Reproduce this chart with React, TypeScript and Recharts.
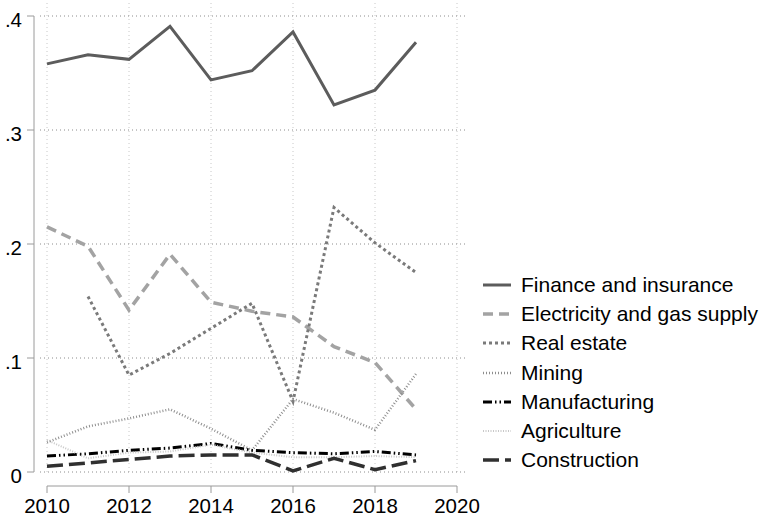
import { CartesianGrid, Line, LineChart, XAxis, YAxis } from 'recharts';

const YEARS = [2010, 2011, 2012, 2013, 2014, 2015, 2016, 2017, 2018, 2019];

const FINANCE = [0.358, 0.366, 0.362, 0.391, 0.344, 0.352, 0.386, 0.322, 0.335, 0.377];
const ELECTRICITY = [0.215, 0.198, 0.142, 0.191, 0.149, 0.141, 0.136, 0.11, 0.096, 0.055];
const REAL_ESTATE = [null, 0.154, 0.085, 0.104, 0.126, 0.148, 0.062, 0.232, 0.201, 0.175];
const MINING = [0.026, 0.04, 0.047, 0.055, 0.038, 0.019, 0.064, 0.052, 0.037, 0.086];
const MANUFACTURING = [0.014, 0.016, 0.019, 0.021, 0.025, 0.019, 0.017, 0.016, 0.018, 0.015];
const AGRICULTURE = [0.028, 0.012, 0.017, 0.018, 0.024, 0.017, 0.013, 0.013, 0.014, 0.013];
const CONSTRUCTION = [0.005, 0.008, 0.011, 0.014, 0.015, 0.015, 0.001, 0.012, 0.002, 0.01];

const X_TICKS = [2010, 2012, 2014, 2016, 2018, 2020];
const Y_TICKS = [0, 0.1, 0.2, 0.3, 0.4];

const SERIES = [
  { key: 'finance', name: 'Finance and insurance', values: FINANCE, color: '#5c5c5c', width: 3, dash: undefined },
  { key: 'electricity', name: 'Electricity and gas supply', values: ELECTRICITY, color: '#a3a3a3', width: 3.5, dash: '10 6' },
  { key: 'realEstate', name: 'Real estate', values: REAL_ESTATE, color: '#7a7a7a', width: 3, dash: '3 3' },
  { key: 'mining', name: 'Mining', values: MINING, color: '#8e8e8e', width: 2.5, dash: '1 2' },
  { key: 'manufacturing', name: 'Manufacturing', values: MANUFACTURING, color: '#000000', width: 3, dash: '9 3 1.5 3 1.5 3' },
  { key: 'agriculture', name: 'Agriculture', values: AGRICULTURE, color: '#c8c8c8', width: 2, dash: '1 1.5' },
  { key: 'construction', name: 'Construction', values: CONSTRUCTION, color: '#303030', width: 3.5, dash: '16 6' },
];

const data = YEARS.map((year, i) => {
  const row: Record<string, number | null> = { year };
  SERIES.forEach(s => {
    row[s.key] = s.values[i];
  });
  return row;
});

const FONT = '"Liberation Sans", Arial, Helvetica, sans-serif';
const AXIS_GRAY = '#9a9a9a';

const fmtY = (v: number) => (v === 0 ? '0' : v.toFixed(1).replace(/^0/, ''));

function LegendBox() {
  return (
    <div style={{ position: 'absolute', left: 482, top: 270, fontFamily: FONT, fontSize: 21, color: '#000' }}>
      {SERIES.map(s => (
        <div key={s.key} style={{ display: 'flex', alignItems: 'center', height: 29.3, whiteSpace: 'nowrap' }}>
          <svg width={30} height={10} style={{ marginRight: 9, flex: 'none' }}>
            <line x1={1} y1={5} x2={29} y2={5} stroke={s.color} strokeWidth={s.width} strokeDasharray={s.dash} />
          </svg>
          <span>{s.name}</span>
        </div>
      ))}
    </div>
  );
}

export default function App() {
  return (
    <div style={{ position: 'absolute', left: 0, top: 0, width: 760, height: 518, background: '#fff', overflow: 'hidden' }}>
      <LineChart width={760} height={518} data={data} margin={{ top: 16, right: 303, bottom: 0, left: 0 }}>
        <CartesianGrid horizontal={false} stroke="#c8c8c8" strokeDasharray="1 3" y={3} height={469} />
        <CartesianGrid vertical={false} stroke="#8c8c8c" strokeDasharray="1 3" x={40} width={427} />
        <XAxis
          type="number"
          dataKey="year"
          domain={[2010, 2020]}
          ticks={X_TICKS}
          height={46}
          axisLine={{ stroke: AXIS_GRAY, transform: 'translate(0,14)' }}
          tickLine={{ stroke: AXIS_GRAY, transform: 'translate(0,14)' }}
          tickSize={7}
          tickMargin={19.5}
          tick={{ fontSize: 20.5, fill: '#000', fontFamily: FONT }}
        />
        <YAxis
          type="number"
          domain={[0, 0.4]}
          ticks={Y_TICKS}
          width={47}
          axisLine={{ stroke: AXIS_GRAY, transform: 'translate(-13,0)' }}
          tickLine={{ stroke: AXIS_GRAY, transform: 'translate(-13,0)' }}
          tickSize={7}
          tickMargin={18}
          tickFormatter={fmtY}
          tick={{ fontSize: 20.5, fill: '#000', fontFamily: FONT, transform: 'translate(0,4)' }}
        />
        {SERIES.map(s => (
          <Line
            key={s.key}
            dataKey={s.key}
            name={s.name}
            stroke={s.color}
            strokeWidth={s.width}
            strokeDasharray={s.dash}
            dot={false}
            activeDot={false}
            isAnimationActive={false}
          />
        ))}
      </LineChart>
      <LegendBox />
    </div>
  );
}
